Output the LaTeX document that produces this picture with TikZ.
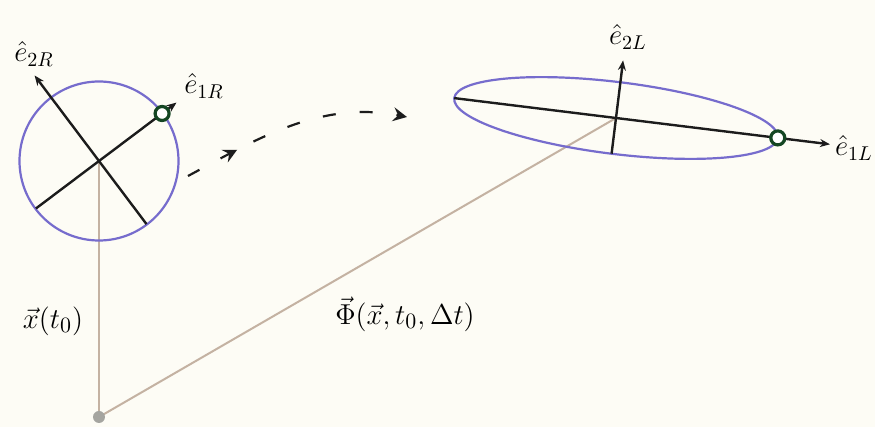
\documentclass[tikz,border=0pt]{standalone}
\usetikzlibrary{arrows.meta,decorations.markings}
\definecolor{bgcol}{RGB}{253,252,245}
\definecolor{ringblue}{RGB}{118,108,205}
\definecolor{tanline}{RGB}{196,178,162}
\definecolor{axisgray}{RGB}{28,28,28}
\definecolor{dotgreen}{RGB}{20,70,35}
\definecolor{origingray}{RGB}{165,165,160}
\begin{document}
\begin{tikzpicture}[x=0.5pt,y=-0.5pt,
  axisline/.style={draw=axisgray,line width=1.2pt},
  axisarrow/.style={axisline,-{Stealth[length=5pt,width=4pt]}},
  ring/.style={draw=ringblue,line width=1.1pt},
  posline/.style={draw=tanline,line width=1pt},
  greendot/.style={circle,draw=dotgreen,line width=1.6pt,fill=white,minimum size=7pt,inner sep=0pt},
  lbl/.style={inner sep=0pt,font=\fontsize{15}{17}\selectfont},
  elbl/.style={inner sep=0pt,font=\fontsize{14.5}{16}\selectfont}]
\fill[bgcol] (0,0) rectangle (875,427);
\useasboundingbox (0,0) rectangle (875,427);

% coordinates
\coordinate (O) at (99,417);
\coordinate (C) at (99,161);
\coordinate (E) at (616,118);
% circle axes
\coordinate (R1tail) at (35.9,208.5);
\coordinate (R1dot) at (162.1,113.5);
\coordinate (R1tip) at (176.5,102.6);
\coordinate (R2tail) at (146.5,224.1);
\coordinate (R2tip) at (34.6,75.5);
% ellipse axes
\coordinate (L1tail) at (454.2,98.1);
\coordinate (L1dot) at (777.8,137.9);
\coordinate (L1tip) at (830,144.3);
\coordinate (L2tail) at (611.6,153.7);
\coordinate (L2tip) at (623.1,60.4);
% dashed arrow ends
\coordinate (D0) at (188,176);
\coordinate (D1) at (407,117);

% position vectors
\draw[posline] (O) -- (C);
\draw[posline] (O) -- (E);
\fill[origingray] (O) circle (3pt);

% circle
\draw[ring] (C) circle (79.5);
\draw[axisline] (R1tail) -- (R1dot);
\draw[axisarrow] (R1dot) -- (R1tip);
\draw[axisarrow] (R2tail) -- (R2tip);
\node[greendot] (g1) at (R1dot) {};

% ellipse
\draw[ring,rotate around={-7:(E)}] (E) ellipse [x radius=81.5pt, y radius=18pt];
\draw[axisline] (L1tail) -- (L1dot);
\draw[axisarrow] (L1dot) -- (L1tip);
\draw[axisarrow] (L2tail) -- (L2tip);
\node[greendot] (g2) at (L1dot) {};

% dashed transformation arrow
\draw[axisgray,line width=1.1pt,dash pattern=on 6.5pt off 12pt,
  decoration={markings,mark=at position 0.24 with {\arrow{Stealth[length=7pt,width=7pt,inset=2.5pt]}}},
  postaction={decorate},
  -{Stealth[length=7pt,width=7pt,inset=2.5pt]}]
  (D0) .. controls (255,140) and (320,100) .. (D1);

% labels
\node[elbl] (le2R) at (34,54) {$\hat e_{2R}$};
\node[elbl] (le1R) at (204,86) {$\hat e_{1R}$};
\node[elbl] (le2L) at (628,37) {$\hat e_{2L}$};
\node[elbl] (le1L) at (854,148) {$\hat e_{1L}$};
\node[lbl] (lx) at (53,321) {$\vec x(t_0)$};
\node[lbl] (lphi) at (405,314) {$\vec\Phi(\vec x,t_0,\Delta t)$};
\end{tikzpicture}
\end{document}
